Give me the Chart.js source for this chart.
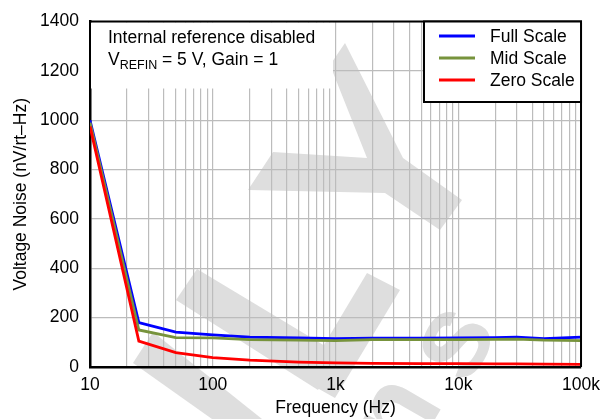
<!DOCTYPE html>
<html>
<head>
<meta charset="utf-8">
<script src="https://cdn.jsdelivr.net/npm/chart.js@4.4.1/dist/chart.umd.min.js"></script>
<style>
  html, body { margin: 0; padding: 0; background: #fff; }
  #wrap { width: 608px; height: 419px; }
</style>
</head>
<body>
<div id="wrap"><canvas id="noiseChart" width="608" height="419"></canvas></div>
<script>
// values
const frequencies = [10, 25, 50, 100, 200, 500, 1000, 2000, 5000, 10000, 20000, 30000, 50000, 100000];
const fullScale = [1000, 180, 141, 130, 121, 118, 115, 117, 117, 118, 119, 121, 115, 121];
const midScale = [990, 150, 119, 118, 111, 109, 107, 111, 111, 111, 112, 113, 109, 107];
const zeroScale = [975, 105, 58, 38, 28, 20, 17, 15, 14, 14, 13, 13, 12, 11];

const seriesNames = ["Full Scale", "Mid Scale", "Zero Scale"];
const seriesColors = ["#0000ff", "#77933c", "#ff0000"];

const decadeLabels = { 10: "10", 100: "100", 1000: "1k", 10000: "10k", 100000: "100k" };
const yMin = 0;
const yMax = 1400;
const yStep = 200;

const FONT = "'Liberation Sans', Arial, sans-serif";
const FONT_SIZE = 17.5;

// grid lines at 1..9 of every decade
const xGridTicks = [];
for (let d = 10; d < 100000; d *= 10) {
	for (let m = 1; m < 10; m++) xGridTicks.push(d * m);
}
xGridTicks.push(100000);

const watermark = {
	id: "watermark",
	beforeDraw(chart) {
		const ctx = chart.ctx;
		ctx.save();
		ctx.fillStyle = "#ffffff";
		ctx.fillRect(0, 0, chart.width, chart.height);
		ctx.fillStyle = "#dedede";
		const shapes = [
			[[345, 43], [403, 158], [462, 200], [440, 230], [385, 193], [248, 190], [273, 152], [367, 158], [330, 65]],
			[[176, 300], [197, 269], [340, 355], [318, 390]],
			[[367, 273], [400, 290], [335, 398], [303, 380]],
			[[133, 363], [153, 332], [262, 419], [212, 419]],
		];
		shapes.forEach((pts) => {
			ctx.beginPath();
			ctx.moveTo(pts[0][0], pts[0][1]);
			pts.slice(1).forEach((p) => ctx.lineTo(p[0], p[1]));
			ctx.closePath();
			ctx.fill();
		});
		ctx.font = "bold 118px Arial, sans-serif";
		ctx.textAlign = "center";
		ctx.textBaseline = "middle";
		[["n", 398, 418], ["s", 455, 343]].forEach(([ch, x, y]) => {
			ctx.save();
			ctx.translate(x, y);
			ctx.rotate(-60 * Math.PI / 180);
			ctx.fillText(ch, 0, 0);
			ctx.restore();
		});
		ctx.restore();
	},
};

const noteBox = {
	id: "noteBox",
	beforeDatasetsDraw(chart) {
		const ctx = chart.ctx;
		const area = chart.chartArea;
		ctx.save();
		ctx.fillStyle = "#ffffff";
		ctx.fillRect(area.left + 1, area.top + 1, 242, 66);
		ctx.fillStyle = "#000";
		ctx.textBaseline = "alphabetic";
		ctx.font = FONT_SIZE + "px " + FONT;
		ctx.fillText("Internal reference disabled", 108, 43);
		let x = 108;
		ctx.fillText("V", x, 65);
		x += ctx.measureText("V").width;
		ctx.font = "12.5px " + FONT;
		ctx.fillText("REFIN", x, 69);
		x += ctx.measureText("REFIN").width;
		ctx.font = FONT_SIZE + "px " + FONT;
		ctx.fillText(" = 5 V, Gain = 1", x, 65);
		ctx.restore();
	},
};

const frameAndLegend = {
	id: "frameAndLegend",
	afterDraw(chart) {
		const ctx = chart.ctx;
		const area = chart.chartArea;
		ctx.save();
		ctx.strokeStyle = "#000";
		ctx.lineWidth = 2;
		ctx.beginPath();
		ctx.moveTo(area.left, area.top);
		ctx.lineTo(area.right, area.top);
		ctx.lineTo(area.right, area.bottom);
		ctx.stroke();

		// legend box in the top right corner
		const boxLeft = 424;
		const boxBottom = 102;
		ctx.fillStyle = "#fff";
		ctx.fillRect(boxLeft, area.top, area.right - boxLeft, boxBottom - area.top);
		ctx.lineWidth = 2;
		ctx.strokeRect(boxLeft, area.top, area.right - boxLeft, boxBottom - area.top);

		ctx.font = FONT_SIZE + "px " + FONT;
		ctx.textBaseline = "middle";
		chart.data.datasets.forEach((ds, i) => {
			const y = 36 + i * 22;
			ctx.strokeStyle = ds.borderColor;
			ctx.lineWidth = 3;
			ctx.beginPath();
			ctx.moveTo(439, y);
			ctx.lineTo(475, y);
			ctx.stroke();
			ctx.fillStyle = "#000";
			ctx.fillText(ds.label, 490, y + 1);
		});
		ctx.restore();
	},
};

const makeSeries = (values, i) => ({
	label: seriesNames[i],
	data: frequencies.map((f, k) => ({ x: f, y: values[k] })),
	borderColor: seriesColors[i],
	backgroundColor: seriesColors[i],
	borderWidth: 2.8,
	pointRadius: 0,
	tension: 0,
	order: 2 - i,
});

new Chart(document.getElementById("noiseChart"), {
	type: "line",
	data: {
		datasets: [makeSeries(fullScale, 0), makeSeries(midScale, 1), makeSeries(zeroScale, 2)],
	},
	options: {
		responsive: false,
		animation: false,
		devicePixelRatio: 1,
		layout: { padding: { left: 0, right: 21, top: 15, bottom: 0 } },
		plugins: {
			legend: { display: false },
			tooltip: { enabled: false },
		},
		scales: {
			x: {
				type: "logarithmic",
				min: 10,
				max: 100000,
				afterBuildTicks: (scale) => {
					scale.ticks = xGridTicks.map((v) => ({ value: v }));
				},
				afterFit: (scale) => {
					scale.height = 52;
				},
				ticks: {
					autoSkip: false,
					maxRotation: 0,
					padding: 8,
					color: "#000",
					font: { family: FONT, size: FONT_SIZE },
					callback: (value) => decadeLabels[value] || "",
				},
				grid: { color: "#bcbcbc", lineWidth: 1.2, drawTicks: false },
				border: { color: "#000", width: 2.5 },
				title: {
					display: true,
					text: "Frequency (Hz)",
					color: "#000",
					font: { family: FONT, size: FONT_SIZE },
					padding: { top: 0, bottom: 0 },
				},
			},
			y: {
				min: yMin,
				max: yMax,
				afterFit: (scale) => {
					scale.width = 90;
				},
				ticks: {
					stepSize: yStep,
					padding: 11,
					color: "#000",
					font: { family: FONT, size: FONT_SIZE },
					callback: (value) => String(value),
				},
				grid: { color: "#bcbcbc", lineWidth: 1.2, drawTicks: false },
				border: { color: "#000", width: 2.5 },
				title: {
					display: true,
					text: "Voltage Noise (nV/rt\u2013Hz)",
					color: "#000",
					font: { family: FONT, size: FONT_SIZE },
					padding: { top: 11, bottom: 0 },
				},
			},
		},
	},
	plugins: [watermark, noteBox, frameAndLegend],
});
</script>
</body>
</html>
